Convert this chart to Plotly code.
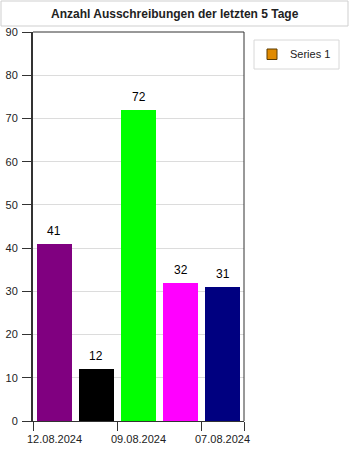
import plotly.graph_objects as go

categories = ["12.08.2024", "10.08.2024", "09.08.2024", "08.08.2024", "07.08.2024"]
values = [41, 12, 72, 32, 31]
colors = ["#800080", "#000000", "#00ff00", "#ff00ff", "#000080"]
y_ticks = [0, 10, 20, 30, 40, 50, 60, 70, 80, 90]
title_text = "Anzahl Ausschreibungen der letzten 5 Tage"
series_name = "Series 1"
legend_color = "#e08a00"

W, H = 350, 450
L, R, T, B = 33, 244, 32, 421
FONT = "Liberation Sans, Arial"


def px(x):
    return (x - L) / (R - L)


def py(y):
    return (B - y) / (B - T)


positions = list(range(len(categories)))

fig = go.Figure()
fig.add_trace(go.Bar(
    x=positions, y=values, name=series_name,
    marker=dict(color=colors, line=dict(width=0)),
    width=0.83, showlegend=False, hoverinfo="skip",
))

# value labels above bars
for i, v in zip(positions, values):
    fig.add_annotation(x=i, y=v, xref="x", yref="y", yshift=13,
                       text=str(v), showarrow=False, yanchor="middle",
                       font=dict(family=FONT, size=12, color="#000"))

# category labels (every second category)
for i in positions[::2]:
    fig.add_annotation(x=i, y=0, xref="x", yref="paper", yshift=-26,
                       text=categories[i], showarrow=False,
                       font=dict(family=FONT, size=11, color="#222"))

fig.update_layout(
    template="none",
    width=W, height=H,
    margin=dict(l=L, r=W - R, t=T, b=H - B, autoexpand=False),
    paper_bgcolor="white", plot_bgcolor="white",
    bargap=0,
    showlegend=False,
    font=dict(family=FONT, size=11, color="#222"),
    xaxis=dict(range=[-0.5, len(categories) - 0.5], automargin=False,
               tickvals=[-0.5, 1.5, 3.5, len(categories) - 0.5],
               ticktext=["", "", "", ""], ticks="outside", ticklen=9,
               tickcolor="#333", tickwidth=1, showgrid=False, zeroline=False,
               showline=True, linecolor="#333", linewidth=1, fixedrange=True),
    yaxis=dict(range=[0, 90], tickvals=y_ticks, ticks="outside", ticklen=9,
               automargin=False,
               tickcolor="#333", tickwidth=1, showgrid=True, gridcolor="#dcdcdc",
               gridwidth=1, zeroline=False, showline=True, linecolor="#333",
               linewidth=2, ticklabelstandoff=2,
               tickfont=dict(family=FONT, size=11, color="#222")),
)

# plot border (top and right)
fig.add_shape(type="line", xref="paper", yref="paper", x0=0, x1=1, y0=1, y1=1,
              line=dict(color="#333", width=1))
fig.add_shape(type="line", xref="paper", yref="paper", x0=1, x1=1, y0=0, y1=1,
              line=dict(color="#333", width=1))

# title box
fig.add_shape(type="rect", xref="paper", yref="paper",
              x0=px(1), x1=px(348), y0=py(1), y1=py(26),
              line=dict(color="#cfcfcf", width=1), fillcolor="white")
fig.add_annotation(x=px(174.5), y=py(13.5), xref="paper", yref="paper",
                   text="<b>" + title_text + "</b>", showarrow=False,
                   xanchor="center", yanchor="middle",
                   font=dict(family=FONT, size=12, color="#222"))

# legend box
fig.add_shape(type="rect", xref="paper", yref="paper",
              x0=px(254), x1=px(339), y0=py(40), y1=py(69),
              line=dict(color="#d8d8d8", width=1), fillcolor="white")
fig.add_shape(type="rect", xref="paper", yref="paper",
              x0=px(267), x1=px(277), y0=py(49), y1=py(59.5),
              line=dict(color="#5a3a00", width=1), fillcolor=legend_color)
fig.add_annotation(x=px(288), y=py(54.5), xref="paper", yref="paper",
                   text=series_name, showarrow=False,
                   xanchor="left", yanchor="middle",
                   font=dict(family=FONT, size=11, color="#222"))

fig.write_html("out.html")
